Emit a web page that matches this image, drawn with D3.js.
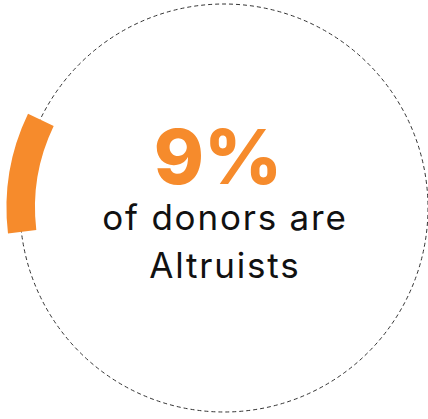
<!DOCTYPE html>
<html>
<head>
<meta charset="utf-8">
<script src="https://cdn.jsdelivr.net/npm/d3@7"></script>
<style>
  html, body { margin: 0; padding: 0; background: #fff; }
  svg { display: block; }
</style>
</head>
<body>
<div id="chart"></div>
<script>
// Share of donors in the highlighted segment
const segmentLabels = ["Altruists"];
const segmentValues = [9];
const totalValue = 100;
const headline = ["of donors are", "Altruists"];

const width = 428, height = 419;
const cx = 224, cy = 208;
const ringRadius = 204;
const bandInner = 189, bandOuter = 217.5;
const startAngle = (263.3 * Math.PI) / 180;
const orange = "#F68B2C";
const spacing = 1.8;

const svg = d3.select("#chart").append("svg")
  .attr("width", width)
  .attr("height", height);

const g = svg.append("g").attr("transform", `translate(${cx},${cy})`);

// dashed guide circle
g.append("circle")
  .attr("r", ringRadius)
  .attr("fill", "none")
  .attr("stroke", "#333")
  .attr("stroke-width", 1)
  .attr("stroke-dasharray", "4,3");

// angle scale: share of the whole -> radians
const angle = d3.scaleLinear().domain([0, totalValue]).range([0, 2 * Math.PI]);

const arc = d3.arc()
  .innerRadius(bandInner)
  .outerRadius(bandOuter);

g.selectAll("path.segment")
  .data(segmentValues)
  .join("path")
  .attr("class", "segment")
  .attr("fill", orange)
  .attr("d", d => arc({ startAngle: startAngle, endAngle: startAngle + angle(d) }));

// centre text
g.append("text")
  .attr("x", -6)
  .attr("y", -24)
  .attr("text-anchor", "middle")
  .attr("font-family", "Inter, 'DejaVu Sans', sans-serif")
  .attr("font-weight", 800)
  .attr("font-size", 76)
  .attr("fill", orange)
  .text(segmentValues[0] + "%");

g.selectAll("text.line")
  .data(headline)
  .join("text")
  .attr("class", "line")
  .attr("x", spacing / 2)
  .attr("y", (d, i) => 22 + i * 48)
  .attr("text-anchor", "middle")
  .attr("font-family", "Inter, 'DejaVu Sans', sans-serif")
  .attr("font-weight", 400)
  .attr("font-size", 35)
  .attr("letter-spacing", spacing)
  .attr("fill", "#111")
  .text(d => d);
</script>
</body>
</html>
